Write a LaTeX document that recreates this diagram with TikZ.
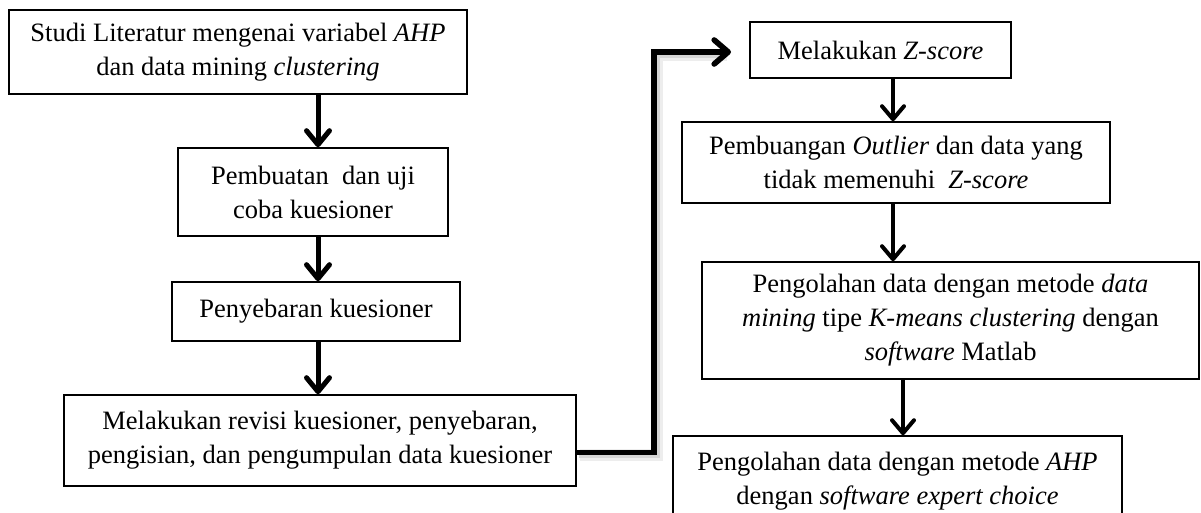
\documentclass[tikz,border=0pt]{standalone}
\usepackage{fontspec}
\setmainfont{Liberation Serif}
\usetikzlibrary{arrows.meta}
\begin{document}
\begin{tikzpicture}[x=0.5pt,y=-0.5pt,
  box/.style={draw, line width=0.8pt, inner sep=0pt, align=center, fill=white,
    font=\fontsize{13.25}{17}\selectfont},
  arrL/.style={line width=2.5pt, -{Straight Barb[length=7pt,width=11.5pt,round]}},
  arrR/.style={line width=2pt, -{Straight Barb[length=6.5pt,width=11pt,round]}},
  conn/.style={line width=2.8pt, line join=miter, -{Straight Barb[length=7pt,width=12pt,round]}},
  shadowA/.style={line width=6pt, draw=black!7, line join=miter},
  shadowB/.style={line width=3.6pt, draw=black!16, line join=miter}
]
\useasboundingbox (0,0) rectangle (1201,513);
\clip (0,0) rectangle (1201,513);

% left column
\node[box, minimum width=229pt, minimum height=42pt] (b1) at (238,52)
  {Studi Literatur mengenai variabel \textit{AHP}\\dan data mining \textit{clustering}};
\node[box, minimum width=135pt, minimum height=44pt] (b2) at (313,192)
  {Pembuatan\ \ dan uji\\coba kuesioner};
\node[box, minimum width=144pt, minimum height=29.5pt] (b3) at (316,311.5)
  {Penyebaran kuesioner};
\node[box, minimum width=256pt, minimum height=45.5pt] (b4) at (320,440.5)
  {Melakukan revisi kuesioner, penyebaran,\\pengisian, dan pengumpulan data kuesioner};

% right column
\node[box, minimum width=130.5pt, minimum height=28pt] (bz) at (880.5,50)
  {Melakukan \textit{Z-score}};
\node[box, minimum width=214pt, minimum height=40.5pt] (bp) at (896,162.5)
  {Pembuangan \textit{Outlier} dan data yang\\tidak memenuhi \ \textit{Z-score}};
\node[box, minimum width=248.5pt, minimum height=58.5pt] (bk) at (950.5,320.5)
  {Pengolahan data dengan metode \textit{data}\\\textit{mining} tipe \textit{K-means clustering} dengan\\\textit{software} Matlab};
\node[box, minimum width=224.5pt, minimum height=45pt] (ba) at (897.5,481)
  {Pengolahan data dengan metode \textit{AHP}\\dengan \textit{software expert choice}};

% arrow columns
\coordinate (axL) at (318,0);
\coordinate (axR) at (893,0);
\coordinate (axR2) at (903,0);

\draw[arrL] (b1.south -| axL) -- (b2.north -| axL);
\draw[arrL] (b2.south -| axL) -- (b3.north -| axL);
\draw[arrL] (b3.south -| axL) -- (b4.north -| axL);

\draw[arrR] (bz.south -| axR) -- (bp.north -| axR);
\draw[arrR] (bp.south -| axR) -- (bk.north -| axR);
\draw[arrR] (bk.south -| axR2) -- (ba.north -| axR2);

% connector from b4 to bz, with a soft shadow
\coordinate (corner) at (654,52);
\coordinate (ctip) at (731,52);
\draw[shadowA] ([xshift=1.5pt,yshift=-7.5pt]b4.east) -| ([xshift=1.5pt,yshift=-1.5pt]corner) -- ([xshift=-2pt,yshift=-1.5pt]ctip);
\draw[shadowB] ([xshift=1.2pt,yshift=-7.2pt]b4.east) -| ([xshift=1.2pt,yshift=-1.2pt]corner) -- ([xshift=-3pt,yshift=-1.2pt]ctip);
\draw[conn] ([yshift=-6pt]b4.east) -| (corner) -- (ctip);
\end{tikzpicture}
\end{document}
